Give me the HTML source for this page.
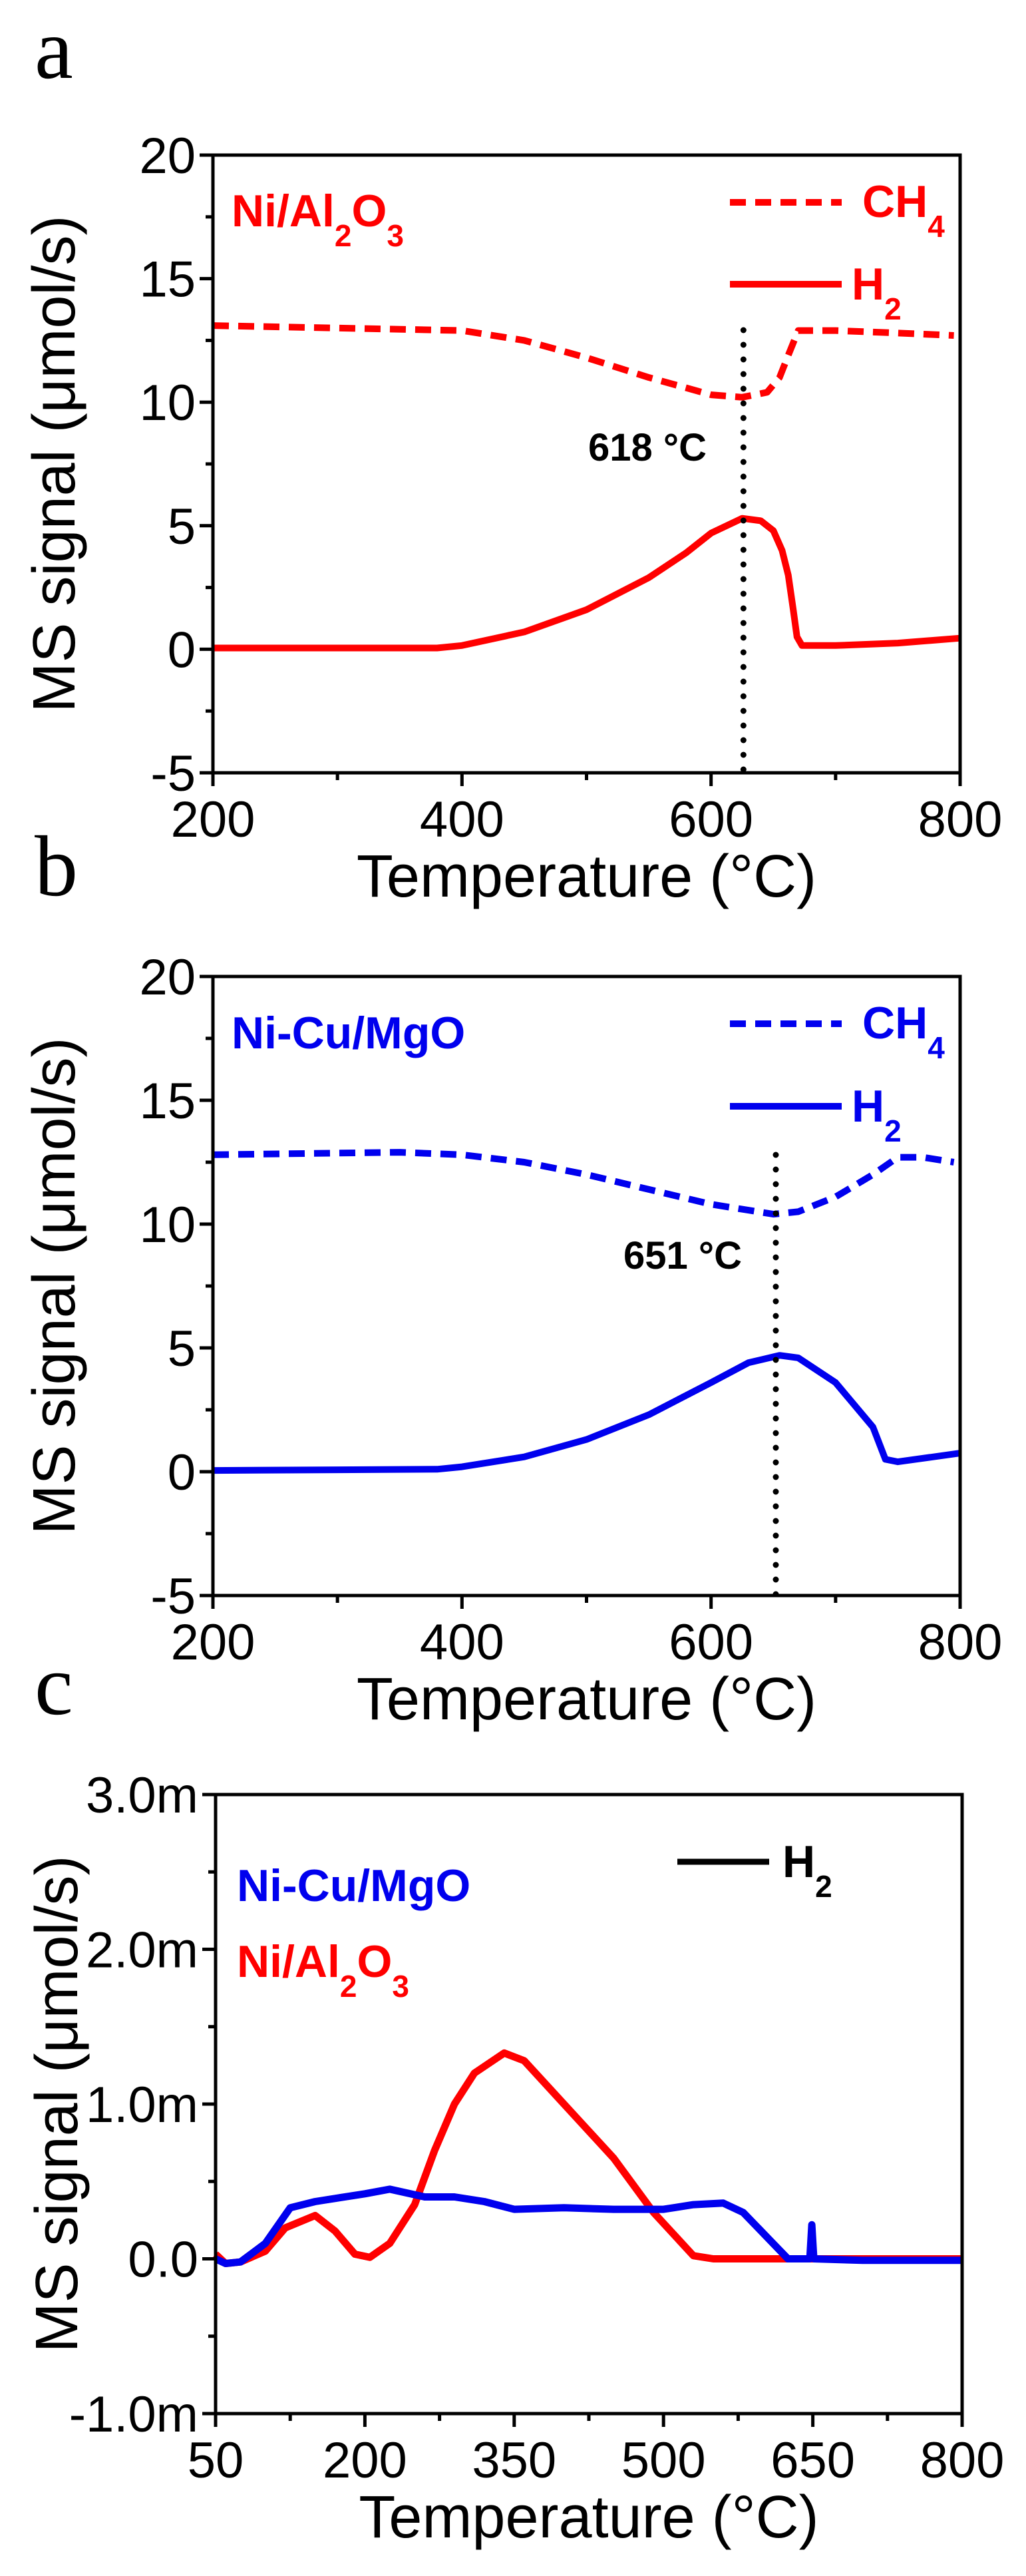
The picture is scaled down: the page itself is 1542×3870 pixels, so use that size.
<!DOCTYPE html>
<html><head><meta charset="utf-8"><style>
html,body{margin:0;padding:0;background:#fff}
svg{display:block}
text{font-family:"Liberation Sans",Arial,sans-serif}
text.serif{font-family:"Liberation Serif",serif}
</style></head><body>
<svg id="fig" width="1542" height="3870" viewBox="0 0 1542 3870" xmlns="http://www.w3.org/2000/svg">
<rect width="1542" height="3870" fill="#fff"/>
</svg>
<script>
// ---- data ----
const aCh4T = [200,300,400,450,500,550,600,625,645,655,662,670,700,750,795];
const aCh4V = [13.1,13.0,12.9,12.5,11.8,11.0,10.3,10.2,10.4,11.0,11.9,12.9,12.9,12.8,12.7];
const aH2T = [200,380,400,450,500,550,580,600,625,640,650,657,662,666,669,673,700,750,800];
const aH2V = [0.05,0.05,0.15,0.7,1.6,2.9,3.9,4.7,5.3,5.2,4.8,4.0,3.0,1.6,0.5,0.15,0.15,0.25,0.45];
const bCh4T = [200,350,400,450,500,550,600,650,670,700,730,750,770,795];
const bCh4V = [12.8,12.9,12.8,12.5,12.0,11.4,10.8,10.4,10.5,11.1,12.0,12.7,12.7,12.5];
const bH2T = [200,380,400,450,500,550,600,630,655,670,700,730,740,750,800];
const bH2V = [0.05,0.1,0.2,0.6,1.3,2.3,3.6,4.4,4.7,4.6,3.6,1.8,0.5,0.4,0.75];
const cRedT = [50,60,75,100,120,150,170,190,205,225,250,270,290,310,340,360,400,450,490,530,550,800];
const cRedV = [0.03,-0.03,-0.02,0.05,0.2,0.28,0.18,0.03,0.01,0.1,0.35,0.7,1.0,1.2,1.33,1.28,1.0,0.65,0.3,0.02,0.0,0.0];
const cBlueT = [50,60,75,100,125,150,200,225,260,290,320,350,400,450,500,530,560,580,610,625,647,649,651,700,800];
const cBlueV = [0,-0.03,-0.02,0.1,0.33,0.37,0.42,0.45,0.4,0.4,0.37,0.32,0.33,0.32,0.32,0.35,0.36,0.3,0.1,0.0,0.0,0.22,0.0,-0.01,-0.01];
const abXTicks = [200,400,600,800];
const abYTicks = [-5,0,5,10,15,20];
const cXTicks = [50,200,350,500,650,800];
const cYTicks = [-1,0,1,2,3];
const cYTickLabels = ["-1.0m","0.0","1.0m","2.0m","3.0m"];
const peakA = [626];
const peakB = [652];

const NS = "http://www.w3.org/2000/svg";
const svg = document.getElementById('fig');
function mk(tag, attrs, parent){const e=document.createElementNS(NS,tag);for(const k in attrs)e.setAttribute(k,attrs[k]);(parent||svg).appendChild(e);return e;}

function panel(o){
  const g = mk('g',{});
  
  
  const X = v => o.L + (v-o.x0)/(o.x1-o.x0)*(o.R-o.L);
  const Y = v => o.B - (v-o.y0)/(o.y1-o.y0)*(o.B-o.T);
  o.series.forEach(s=>{
    const d = s.t.map((t,i)=>(i?'L':'M')+X(t).toFixed(1)+' '+Y(s.v[i]).toFixed(1)).join(' ');
    const p = mk('path',{d:d,fill:'none',stroke:s.color,'stroke-width':s.w,'stroke-linejoin':'round','stroke-dasharray':s.dash||'none'},g);
    
    
  });
  if(o.peak){
    const l = mk('line',{x1:X(o.peak[0]),x2:X(o.peak[0]),y1:o.peakTop,y2:o.B,stroke:'#000','stroke-width':9,'stroke-dasharray':'0 22','stroke-linecap':'round'},g);
    
    
  }
  const f = mk('rect',{x:o.L,y:o.T,width:o.R-o.L,height:o.B-o.T,fill:'none',stroke:'#000','stroke-width':5},g);
  
  
  for(let i=0;i<o.xt.length;i++){
    const x=X(o.xt[i]);
    mk('line',{x1:x,x2:x,y1:o.B,y2:o.B+20,stroke:'#000','stroke-width':5},g);
    if(i<o.xt.length-1){const xm=X((o.xt[i]+o.xt[i+1])/2);mk('line',{x1:xm,x2:xm,y1:o.B,y2:o.B+11,stroke:'#000','stroke-width':5},g);}
    const t = mk('text',{x:x,y:o.B+96,'font-size':76,'text-anchor':'middle',fill:'#000'},g);
    t.textContent = o.xt[i];
    
    
  }
  for(let i=0;i<o.yt.length;i++){
    const y=Y(o.yt[i]);
    mk('line',{x1:o.L-20,x2:o.L,y1:y,y2:y,stroke:'#000','stroke-width':5},g);
    if(i<o.yt.length-1){const ym=Y((o.yt[i]+o.yt[i+1])/2);mk('line',{x1:o.L-11,x2:o.L,y1:ym,y2:ym,stroke:'#000','stroke-width':5},g);}
    const t = mk('text',{x:o.L-26,y:y+27,'font-size':76,'text-anchor':'end',fill:'#000'},g);
    t.textContent = o.ytl ? o.ytl[i] : o.yt[i];
    
    
  }
  const xt = mk('text',{x:(o.L+o.R)/2,y:o.B+186,'font-size':90,'text-anchor':'middle',fill:'#000'},g);
  xt.textContent = 'Temperature (\u00B0C)';
  
  
  const yt = mk('text',{x:0,y:0,'font-size':90,'text-anchor':'middle',fill:'#000',transform:`translate(${o.L-208},${(o.T+o.B)/2}) rotate(-90)`},g);
  yt.textContent = 'MS signal (\u03BCmol/s)';
  
  
  return g;
}

function addLabel(html, x, y, color, size, name, weight, cls){
  const t = mk('text',{x:x,y:y,'font-size':size,fill:color,'font-weight':weight||'bold'});
  if(cls) t.setAttribute('class', cls);
  t.innerHTML = html;
  
  
  return t;
}
function addLine(x1,x2,y,color,dash,name){
  const l = mk('line',{x1:x1,x2:x2,y1:y,y2:y,stroke:color,'stroke-width':10,'stroke-dasharray':dash||'none'});
  
  
}
const al2o3 = `Ni/Al<tspan font-size="46" dy="30">2</tspan><tspan dy="-30">O</tspan><tspan font-size="46" dy="30">3</tspan>`;

// Panel a
panel({name:'panel-a',L:320,R:1443,T:233,B:1161,x0:200,x1:800,y0:-5,y1:20,xt:abXTicks,yt:abYTicks,
  series:[{name:'ch4-line-a',t:aCh4T,v:aCh4V,color:'#ff0000',w:10,dash:'24 14'},{name:'h2-line-a',t:aH2T,v:aH2V,color:'#ff0000',w:10}],
  peak:peakA,peakTop:496});
addLabel('a',52,117,'#000',130,'panel-label-a','normal','serif');
addLabel(al2o3,348,340,'#ff0000',68,'sample-label-a');
addLine(1097,1265,304,'#ff0000','24 14','legend-ch4-line-a');
addLabel(`CH<tspan font-size="46" dy="30">4</tspan>`,1296,326,'#ff0000',68,'legend-ch4-a');
addLine(1097,1265,427,'#ff0000','','legend-h2-line-a');
addLabel(`H<tspan font-size="46" dy="30">2</tspan>`,1280,450,'#ff0000',68,'legend-h2-a');
addLabel('618 \u00B0C',884,692,'#000',58,'peak-label-a');

// Panel b
panel({name:'panel-b',L:320,R:1443,T:1467,B:2397,x0:200,x1:800,y0:-5,y1:20,xt:abXTicks,yt:abYTicks,
  series:[{name:'ch4-line-b',t:bCh4T,v:bCh4V,color:'#0000ee',w:10,dash:'24 14'},{name:'h2-line-b',t:bH2T,v:bH2V,color:'#0000ee',w:10}],
  peak:peakB,peakTop:1735});
addLabel('b',52,1345,'#000',130,'panel-label-b','normal','serif');
addLabel('Ni-Cu/MgO',348,1575,'#0000ee',68,'sample-label-b');
addLine(1097,1265,1538,'#0000ee','24 14','legend-ch4-line-b');
addLabel(`CH<tspan font-size="46" dy="30">4</tspan>`,1296,1560,'#0000ee',68,'legend-ch4-b');
addLine(1097,1265,1662,'#0000ee','','legend-h2-line-b');
addLabel(`H<tspan font-size="46" dy="30">2</tspan>`,1280,1685,'#0000ee',68,'legend-h2-b');
addLabel('651 \u00B0C',937,1906,'#000',58,'peak-label-b');

// Panel c
panel({name:'panel-c',L:324,R:1446,T:2696,B:3626,x0:50,x1:800,y0:-1,y1:3,xt:cXTicks,yt:cYTicks,ytl:cYTickLabels,
  series:[{name:'ni-al2o3-h2-line',t:cRedT,v:cRedV,color:'#ff0000',w:11},{name:'ni-cu-mgo-h2-line',t:cBlueT,v:cBlueV,color:'#0000ee',w:11}]});
addLabel('c',52,2575,'#000',130,'panel-label-c','normal','serif');
addLabel('Ni-Cu/MgO',356,2856,'#0000ee',68,'sample-label-ni-cu-mgo');
addLabel(al2o3,356,2970,'#ff0000',68,'sample-label-ni-al2o3');
const lc = mk('line',{x1:1018,x2:1156,y1:2797,y2:2797,stroke:'#000','stroke-width':9});


addLabel(`H<tspan font-size="46" dy="30">2</tspan>`,1176,2820,'#000',68,'legend-h2-c');
</script>
</body></html>
